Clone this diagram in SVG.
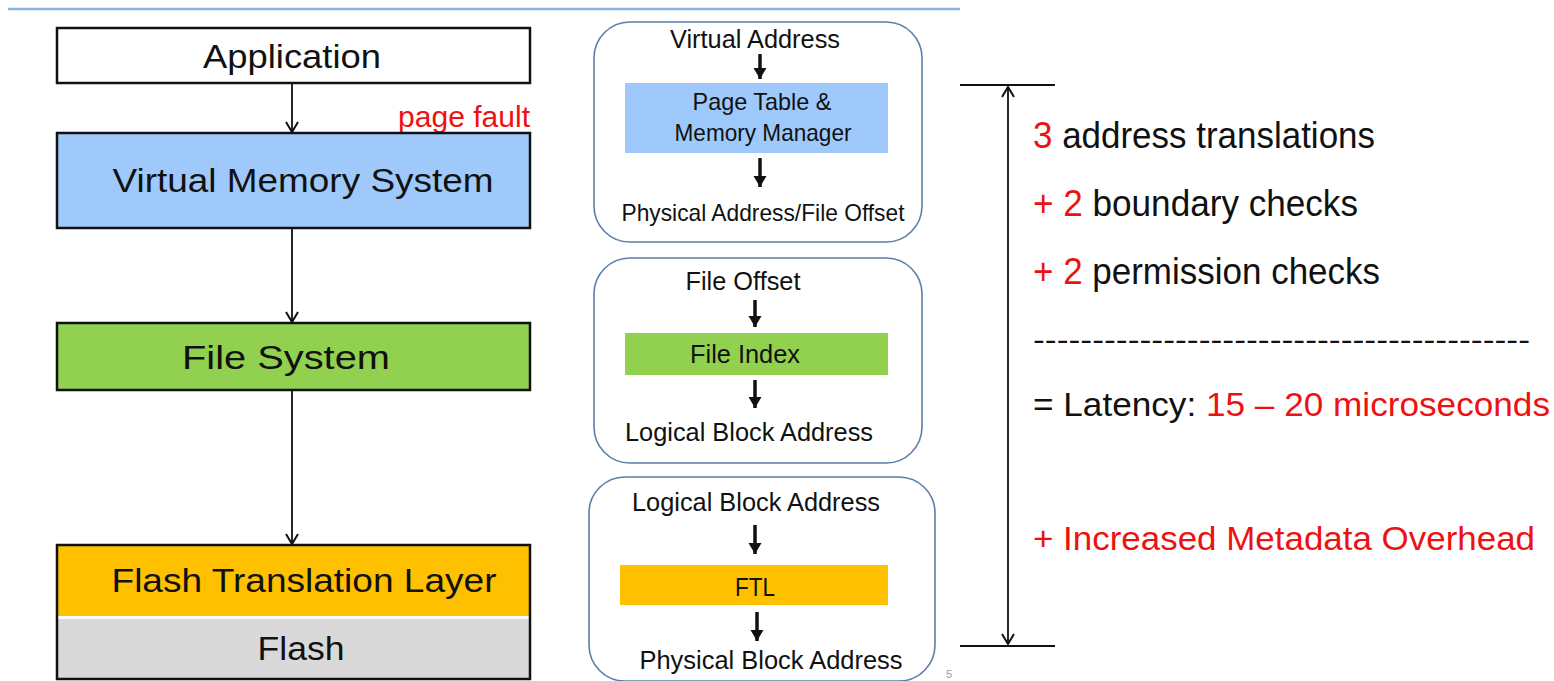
<svg xmlns="http://www.w3.org/2000/svg" width="1554" height="681" viewBox="0 0 1554 681">
<defs>
<style>
.t{font-family:"Liberation Sans",Arial,sans-serif;fill:#111}
.n{font-family:"Liberation Sans Narrow","Liberation Sans",Arial,sans-serif;fill:#111}
.red{fill:#ee1111}
.lbox{stroke:#111;stroke-width:2.5}
.rbox{fill:#fff;stroke:#5a7fa8;stroke-width:1.6}
.thin{stroke:#111;stroke-width:1.8;fill:none}
.thick{stroke:#111;stroke-width:3.5;fill:none}
</style>
<marker id="chev" markerUnits="userSpaceOnUse" viewBox="-12 -8 14 16" refX="0" refY="0" markerWidth="14" markerHeight="16" orient="auto-start-reverse">
<path d="M-10,-6 L0,0 L-10,6" fill="none" stroke="#111" stroke-width="2"/>
</marker>
<marker id="tri" markerUnits="userSpaceOnUse" viewBox="-12 -8 14 16" refX="0" refY="0" markerWidth="14" markerHeight="16" orient="auto">
<path d="M-11,-6.5 L0,0 L-11,6.5 Z" fill="#111"/>
</marker>
</defs>
<rect width="1554" height="681" fill="#fff"/>
<line x1="8" y1="9" x2="960" y2="9" stroke="#8db3e2" stroke-width="2.5"/>

<g id="application">
<rect class="lbox" x="57" y="28" width="473" height="55" fill="#fff"/>
<text class="t" x="292" y="68" font-size="33" text-anchor="middle" textLength="178" lengthAdjust="spacingAndGlyphs">Application</text>
</g>
<g id="page-fault">
<text class="t red" x="530" y="127" font-size="29" text-anchor="end" textLength="132" lengthAdjust="spacingAndGlyphs">page fault</text>
</g>
<g id="vms">
<rect class="lbox" x="57" y="133" width="473" height="95" fill="#9ec9fa"/>
<text class="t" x="303" y="192" font-size="34" text-anchor="middle" textLength="381" lengthAdjust="spacingAndGlyphs">Virtual Memory System</text>
</g>
<g id="fs">
<rect class="lbox" x="57" y="323" width="473" height="67" fill="#92d050"/>
<text class="t" x="286" y="369" font-size="34" text-anchor="middle" textLength="208" lengthAdjust="spacingAndGlyphs">File System</text>
</g>
<g id="ftl-flash">
<rect x="57" y="545" width="473" height="71" fill="#ffc000"/>
<rect x="57" y="619" width="473" height="60" fill="#d9d9d9"/>
<rect class="lbox" x="57" y="545" width="473" height="134" fill="none"/>
<text class="t" x="304" y="592" font-size="34" text-anchor="middle" textLength="385" lengthAdjust="spacingAndGlyphs">Flash Translation Layer</text>
<text class="t" x="301" y="660" font-size="34" text-anchor="middle" textLength="87" lengthAdjust="spacingAndGlyphs">Flash</text>
</g>

<g id="vm-detail">
<rect class="rbox" x="594" y="22" width="328" height="220" rx="36"/>
<text class="n" x="755" y="48" font-size="25" text-anchor="middle" textLength="170" lengthAdjust="spacingAndGlyphs">Virtual Address</text>
<rect x="625" y="83" width="263" height="70" fill="#9ec9fa"/>
<text class="n" x="762" y="110" font-size="24" text-anchor="middle" textLength="139" lengthAdjust="spacingAndGlyphs">Page Table &amp;</text>
<text class="n" x="763" y="141" font-size="24" text-anchor="middle" textLength="177" lengthAdjust="spacingAndGlyphs">Memory Manager</text>
<text class="n" x="763" y="221" font-size="24" text-anchor="middle" textLength="283" lengthAdjust="spacingAndGlyphs">Physical Address/File Offset</text>
</g>
<g id="fs-detail">
<rect class="rbox" x="594" y="258" width="328" height="205" rx="36"/>
<text class="n" x="743" y="290" font-size="25" text-anchor="middle" textLength="115" lengthAdjust="spacingAndGlyphs">File Offset</text>
<rect x="625" y="333" width="263" height="42" fill="#92d050"/>
<text class="n" x="745" y="363" font-size="25" text-anchor="middle" textLength="110" lengthAdjust="spacingAndGlyphs">File Index</text>
<text class="n" x="749" y="441" font-size="25" text-anchor="middle" textLength="248" lengthAdjust="spacingAndGlyphs">Logical Block Address</text>
</g>
<g id="ftl-detail">
<rect class="rbox" x="589" y="477" width="346" height="204" rx="36"/>
<text class="n" x="756" y="511" font-size="25" text-anchor="middle" textLength="248" lengthAdjust="spacingAndGlyphs">Logical Block Address</text>
<rect x="620" y="565" width="268" height="40" fill="#ffc000"/>
<text class="n" x="755" y="596" font-size="25" text-anchor="middle" textLength="40" lengthAdjust="spacingAndGlyphs">FTL</text>
<text class="n" x="771" y="669" font-size="25" text-anchor="middle" textLength="263" lengthAdjust="spacingAndGlyphs">Physical Block Address</text>
</g>
<text x="946" y="678" font-family="Liberation Sans,Arial,sans-serif" font-size="11" fill="#999">5</text>

<g id="summary">
<line x1="960" y1="85" x2="1055" y2="85" stroke="#111" stroke-width="2"/>
<line x1="960" y1="646" x2="1055" y2="646" stroke="#111" stroke-width="2"/>
<text class="n" x="1033" y="148" font-size="37" textLength="342" lengthAdjust="spacingAndGlyphs"><tspan class="red">3</tspan> address translations</text>
<text class="n" x="1033" y="216" font-size="37" textLength="325" lengthAdjust="spacingAndGlyphs"><tspan class="red">+ 2</tspan> boundary checks</text>
<text class="n" x="1033" y="284" font-size="37" textLength="347" lengthAdjust="spacingAndGlyphs"><tspan class="red">+ 2</tspan> permission checks</text>
<text class="n" x="1033" y="350" font-size="30" textLength="497" lengthAdjust="spacingAndGlyphs">------------------------------------------</text>
<text class="n" x="1033" y="416" font-size="34" textLength="517" lengthAdjust="spacingAndGlyphs">= Latency: <tspan class="red">15 – 20 microseconds</tspan></text>
<text class="n red" x="1033" y="550" font-size="34" textLength="502" lengthAdjust="spacingAndGlyphs">+ Increased Metadata Overhead</text>
</g>

<g id="connectors">
<line class="thin" x1="292" y1="83" x2="292" y2="132" marker-end="url(#chev)"/>
<line class="thin" x1="292" y1="228" x2="292" y2="322" marker-end="url(#chev)"/>
<line class="thin" x1="292" y1="390" x2="292" y2="544" marker-end="url(#chev)"/>
<line class="thick" x1="760" y1="54" x2="760" y2="79" marker-end="url(#tri)"/>
<line class="thick" x1="760" y1="158" x2="760" y2="187" marker-end="url(#tri)"/>
<line class="thick" x1="755" y1="300" x2="755" y2="327" marker-end="url(#tri)"/>
<line class="thick" x1="755" y1="380" x2="755" y2="408" marker-end="url(#tri)"/>
<line class="thick" x1="755" y1="525" x2="755" y2="554" marker-end="url(#tri)"/>
<line class="thick" x1="757" y1="612" x2="757" y2="641" marker-end="url(#tri)"/>
<line class="thin" x1="1008" y1="87" x2="1008" y2="644" marker-start="url(#chev)" marker-end="url(#chev)"/>
</g>
</svg>
